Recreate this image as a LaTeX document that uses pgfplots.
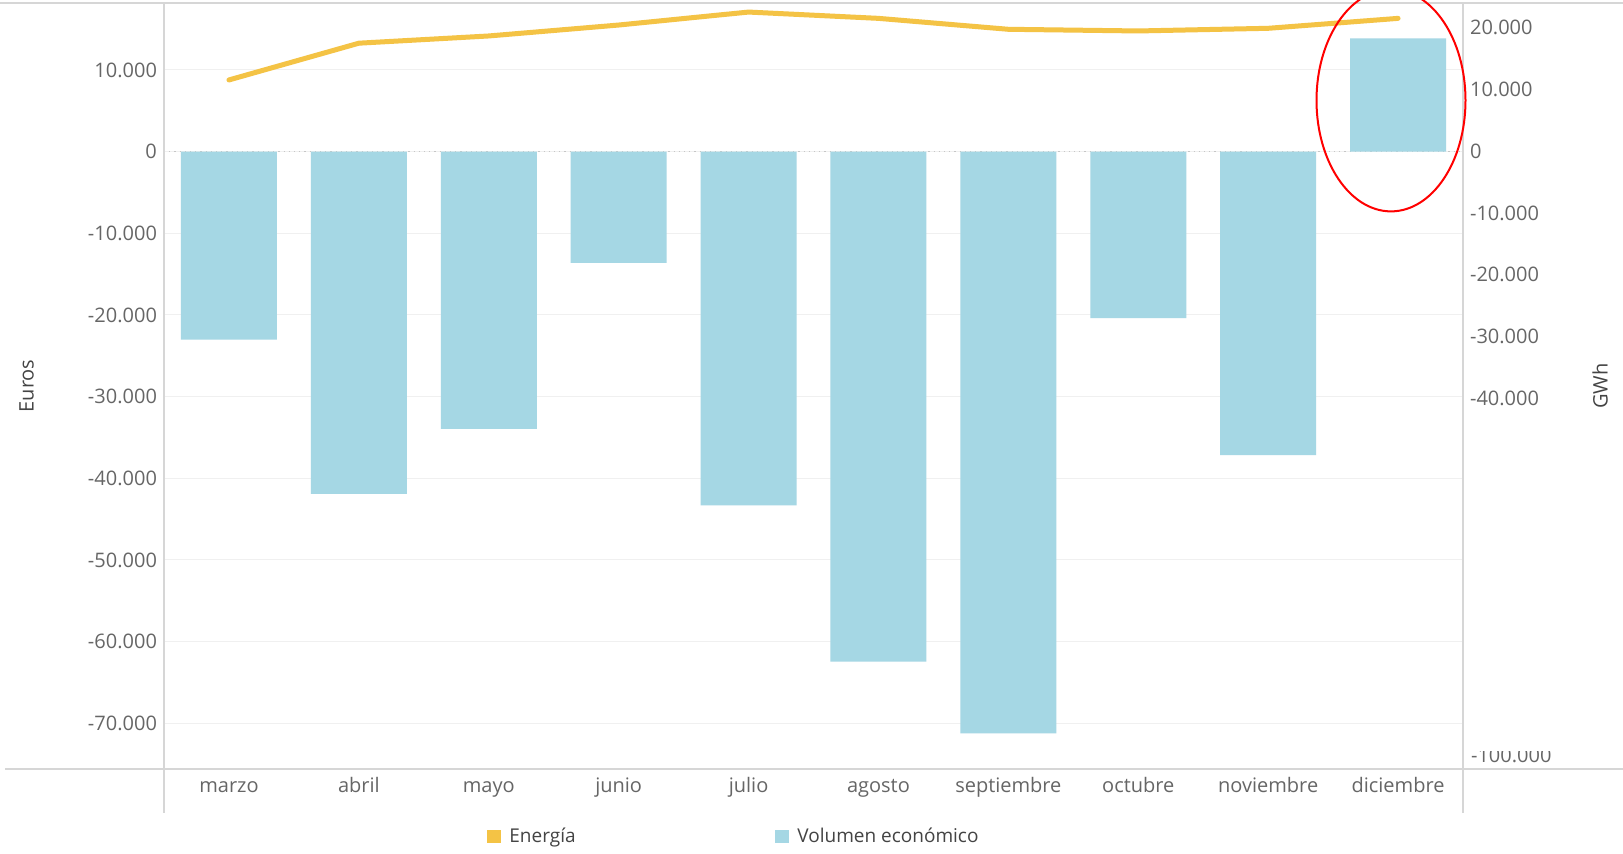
\documentclass[border=0pt]{standalone}
\usepackage{pgfplots}
\pgfplotsset{compat=1.18}
\usepackage{fontspec}
\setmainfont{Open Sans}
\definecolor{barblue}{HTML}{A5D7E4}
\definecolor{lineyel}{HTML}{F4C345}
\definecolor{tickgray}{HTML}{666666}
\definecolor{labgray}{HTML}{444444}
\definecolor{axgray}{HTML}{D6D6D6}
\definecolor{gridgray}{HTML}{F0F0F0}
\begin{document}
\begin{tikzpicture}[x=1pt,y=1pt]
\useasboundingbox (0,0) rectangle (811.5,427);
\fill[white] (0,0) rectangle (811.5,427);
\begin{axis}[
  at={(82pt,42.5pt)}, anchor=south west,
  scale only axis, width=649.5pt, height=383pt,
  xmin=-0.5, xmax=9.5, ymin=-75600, ymax=18200,
  axis line style={draw=none},
  xtick={0,...,9},
  xticklabels={marzo,abril,mayo,junio,julio,agosto,septiembre,octubre,noviembre,diciembre},
  ytick={-70000,-60000,...,10000},
  yticklabels={-70.000,-60.000,-50.000,-40.000,-30.000,-20.000,-10.000,0,10.000},
  major tick length=0pt,
  ymajorgrids, grid style={gridgray, line width=0.5pt},
  tick label style={font=\fontsize{10}{12}\selectfont, text=tickgray},
  xticklabel style={anchor=base, yshift=-12pt},
  ylabel={Euros},
  ylabel style={at={(axis description cs:-0.1058,0.5)}, anchor=center, font=\fontsize{10}{12}\selectfont, text=labgray},
  ybar, bar width=48pt,
  clip=false,
]
\draw[gray!45, dotted, line width=0.6pt] (axis cs:-0.5,0) -- (axis cs:9.5,0);
\addplot[fill=barblue, draw=none] coordinates {
  (0,-23020) (1,-41915) (2,-33940) (3,-13620) (4,-43310)
  (5,-62460) (6,-71240) (7,-20390) (8,-37160) (9,13880)};
\end{axis}
\begin{axis}[
  at={(82pt,42.5pt)}, anchor=south west,
  scale only axis, width=649.5pt, height=383pt,
  xmin=-0.5, xmax=9.5, ymin=-100000, ymax=24000,
  axis x line=none, axis y line*=right, axis line style={draw=none},
  ytick={-40000,-30000,...,20000},
  yticklabels={-40.000,-30.000,-20.000,-10.000,0,10.000,20.000},
  major tick length=0pt,
  tick label style={font=\fontsize{10}{12}\selectfont, text=tickgray},
  ylabel={GWh},
  ylabel style={at={(axis description cs:1.1055,0.5)}, anchor=center, font=\fontsize{10}{12}\selectfont, text=labgray},
]
\addplot[lineyel, line width=2.5pt, line join=round, line cap=round] coordinates {
  (0,11540) (1,17490) (2,18660) (3,20430) (4,22530)
  (5,21510) (6,19740) (7,19470) (8,19900) (9,21510)};
\end{axis}
% frame lines
\draw[axgray, line width=0.6pt] (0,425.5) -- (811.5,425.5);
\draw[axgray, line width=0.6pt] (82,425.5) -- (82,20.5);
\draw[axgray, line width=0.6pt] (731.5,425.5) -- (731.5,20.5);
\draw[axgray, line width=0.6pt] (2.5,42.5) -- (811.5,42.5);
% clipped -100.000 label
\begin{scope}
\clip (733,43) rectangle (811.5,51);
\node[anchor=base west, inner sep=0pt, font=\fontsize{10}{12}\selectfont, text=tickgray] at (735.35,45.5) {-100.000};
\end{scope}
% legend
\fill[lineyel] (243.25,5.25) rectangle (250.5,12);
\node[anchor=base west, inner sep=0pt, font=\fontsize{9.5}{11}\selectfont, text=labgray] at (254.5,5.5) {Energía};
\fill[barblue] (387.5,5.25) rectangle (394.5,12);
\node[anchor=base west, inner sep=0pt, font=\fontsize{9.5}{11}\selectfont, text=labgray] at (398.5,5.5) {Volumen económico};
% annotation ellipse
\draw[red, line width=1pt] (695.5,376.8) ellipse [x radius=37.25, y radius=55.5];
\end{tikzpicture}
\end{document}
